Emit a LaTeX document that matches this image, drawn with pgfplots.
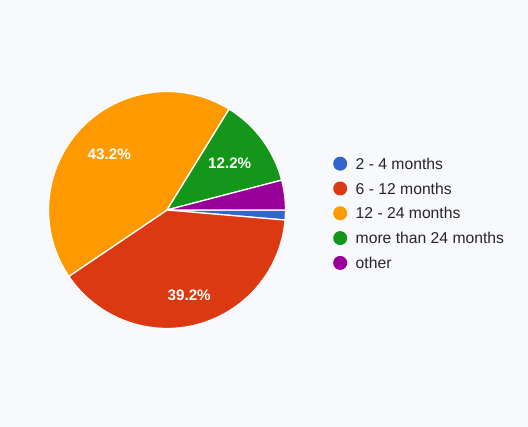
\documentclass[border=0pt]{standalone}
\usepackage{fontspec}
\setmainfont{Liberation Sans}
\usepackage{pgfplots}
\usepackage{pgfplotstable}
\pgfplotsset{compat=1.18}

\definecolor{bgpage}{HTML}{F8F9FC}
\definecolor{sblue}{HTML}{3366CC}
\definecolor{sred}{HTML}{DC3912}
\definecolor{sorange}{HTML}{FF9900}
\definecolor{sgreen}{HTML}{139619}
\definecolor{spurple}{HTML}{990099}
\definecolor{legtext}{HTML}{262626}

% answers per option (74 responses), slices clockwise from 3 o'clock
% pct = printed share (0 = not printed), lr = distance of the label from the centre
\pgfplotstableread[col sep=comma]{
label,count,colour,pct,lr
2 - 4 months,1,sblue,0,0
6 - 12 months,29,sred,39.2,88
12 - 24 months,32,sorange,43.2,80
more than 24 months,9,sgreen,12.2,78
other,3,spurple,0,0
}\piedata

\tikzset{pctlabel/.style={text=white,inner sep=0pt,font=\fontsize{15.2}{17}\selectfont\bfseries}}

\begin{document}
\begin{tikzpicture}
\begin{axis}[
  x=1pt, y=1pt,
  xmin=0, xmax=528, ymin=0, ymax=427,
  hide axis, clip=false,
  legend cell align=left,
  legend image code/.code={\fill[#1] (7pt,5.6pt) circle (7pt);},
  legend style={at={(axis cs:333,270.5)}, anchor=north west,
    draw=none, fill=none, inner sep=0pt,
    font=\fontsize{15.7}{18}\selectfont, text=legtext,
    row sep=10.7pt, column sep=8.5pt,
    nodes={inner sep=0pt, anchor=base west}},
]
\fill[bgpage] (axis cs:0,0) rectangle (axis cs:528,427);

\def\startangle{0}
\pgfplotsforeachungrouped \i in {0,...,4}{%
  \pgfplotstablegetelem{\i}{count}\of\piedata \let\n\pgfplotsretval
  \pgfplotstablegetelem{\i}{colour}\of\piedata \let\c\pgfplotsretval
  \pgfplotstablegetelem{\i}{label}\of\piedata \let\lab\pgfplotsretval
  \pgfplotstablegetelem{\i}{pct}\of\piedata \let\pct\pgfplotsretval
  \pgfplotstablegetelem{\i}{lr}\of\piedata \let\lr\pgfplotsretval
  \pgfmathsetmacro\endangle{\startangle-\n*360/74}
  \pgfmathsetmacro\midangle{(\startangle+\endangle)/2}
  \edef\slice{\noexpand\filldraw[fill=\c, draw=white, line width=1.3pt, line join=round]
    (axis cs:167,217) -- ++(\startangle:118.5pt)
    arc[start angle=\startangle, end angle=\endangle, radius=118.5pt] -- cycle;}
  \slice
  \ifdim\lr pt>0pt
    \edef\pl{\noexpand\node[pctlabel] at ([shift={(\midangle:\lr pt)}]axis cs:167,217) {\pct\noexpand\%};}
    \pl
  \fi
  \edef\leg{\noexpand\addlegendimage{fill=\c, draw=none}\noexpand\addlegendentry{\lab}}
  \leg
  \let\startangle\endangle
}
\end{axis}
\end{tikzpicture}
\end{document}
